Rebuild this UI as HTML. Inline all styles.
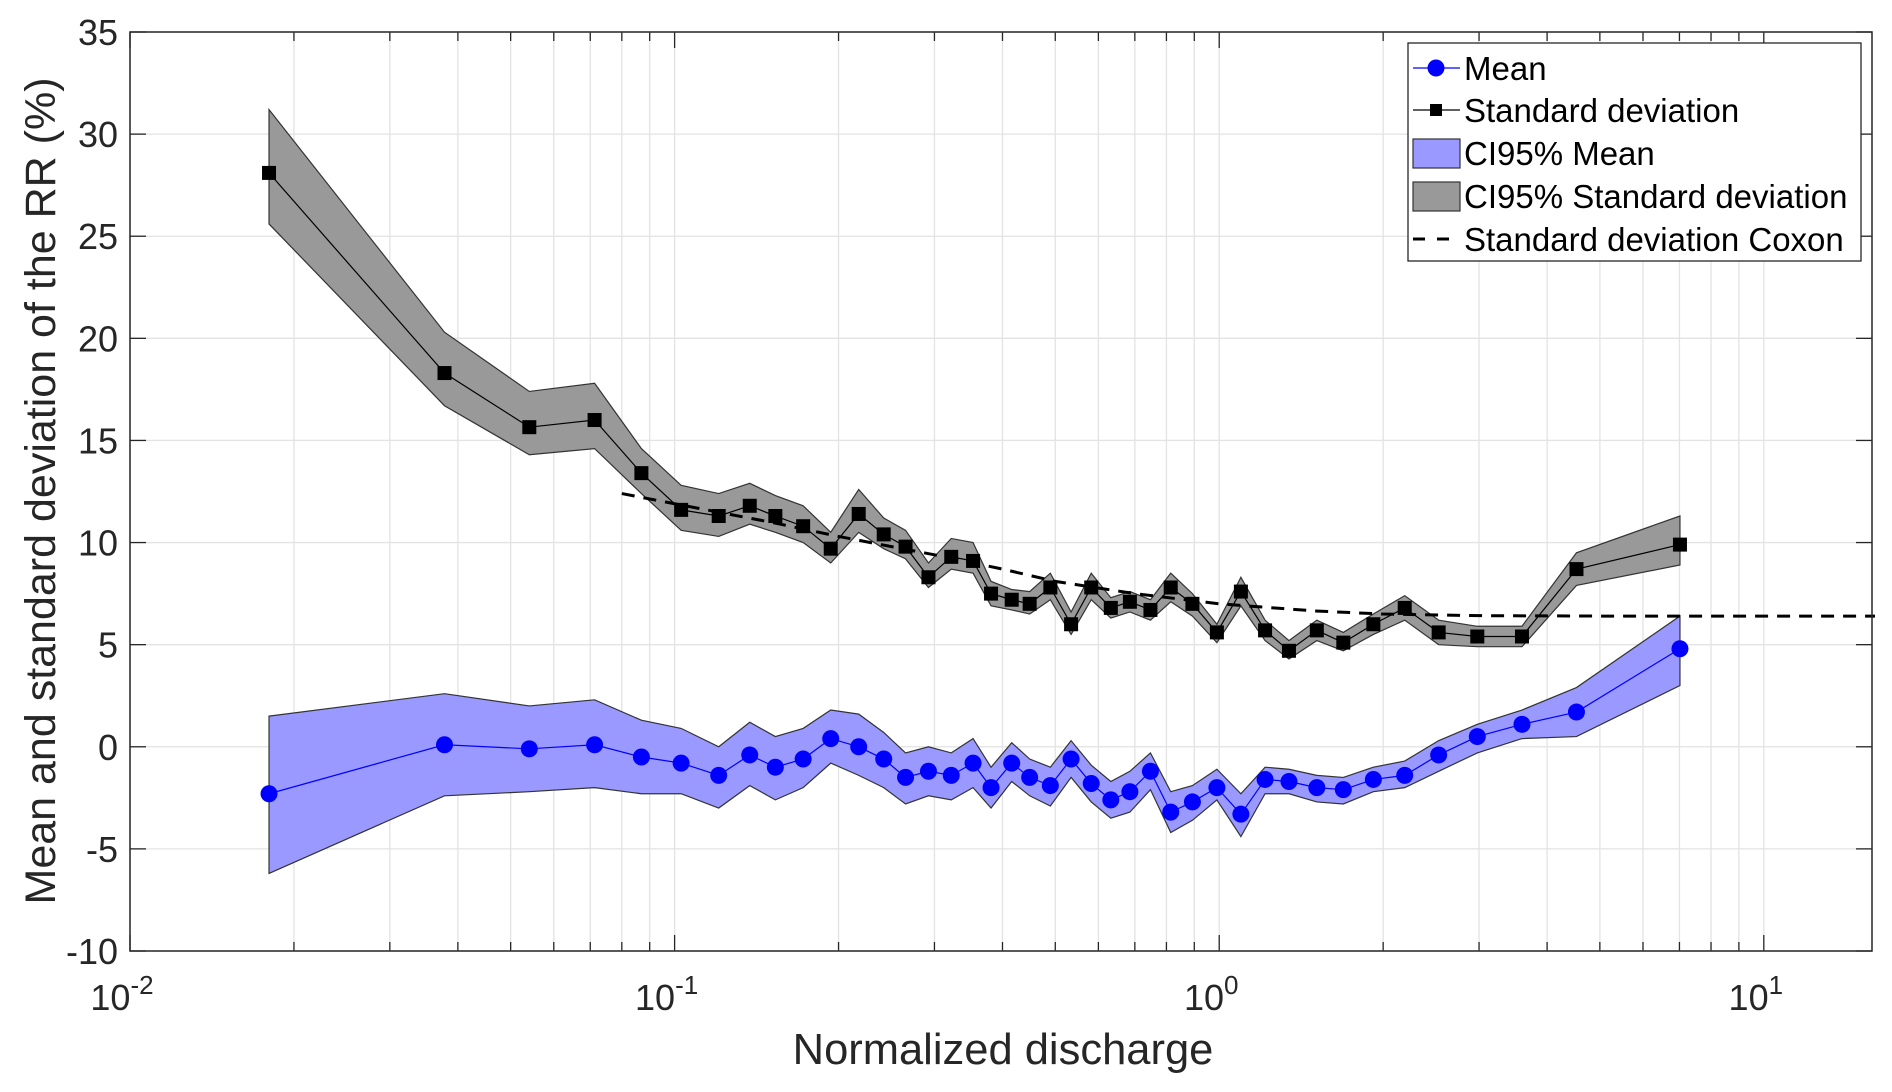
<!DOCTYPE html>
<html><head><meta charset="utf-8"><style>
html,body{margin:0;padding:0;background:#fff;}
svg{display:block;font-family:"Liberation Sans",Arial,sans-serif;}
</style></head><body>
<svg id="chart" width="1892" height="1092" viewBox="0 0 1892 1092" xmlns="http://www.w3.org/2000/svg"></svg>
<script>
const xValues=[0.0180,0.0378,0.0541,0.0713,0.0869,0.1028,0.1205,0.1374,0.1531,0.1722,0.1935,0.2178,0.2421,0.2655,0.2925,0.3221,0.3532,0.3811,0.4159,0.4487,0.4897,0.5346,0.5821,0.6324,0.6855,0.7477,0.8147,0.8929,0.9903,1.096,1.214,1.343,1.511,1.690,1.919,2.191,2.529,2.978,3.597,4.529,7.015];
const sdValues=[28.1,18.3,15.65,16.0,13.4,11.6,11.3,11.8,11.3,10.8,9.7,11.4,10.4,9.8,8.3,9.3,9.1,7.5,7.2,7.0,7.8,6.0,7.8,6.8,7.1,6.7,7.8,7.0,5.6,7.6,5.7,4.7,5.7,5.1,6.0,6.8,5.6,5.4,5.4,8.7,9.9];
const sdLower=[25.6,16.7,14.3,14.6,12.4,10.6,10.3,10.9,10.5,10.0,9.0,10.5,9.7,9.2,7.8,8.7,8.5,6.9,6.7,6.5,7.2,5.5,7.2,6.3,6.6,6.2,7.1,6.4,5.1,6.9,5.2,4.3,5.2,4.7,5.5,6.2,5.0,4.9,4.9,7.9,8.9];
const sdUpper=[31.2,20.3,17.4,17.8,14.6,12.8,12.4,12.9,12.3,11.8,10.5,12.6,11.2,10.6,9.0,10.2,10.0,8.1,7.7,7.6,8.5,6.6,8.5,7.3,7.6,7.2,8.5,7.5,6.0,8.3,6.2,5.2,6.2,5.6,6.5,7.4,6.2,5.9,5.9,9.5,11.3];
const meanValues=[-2.3,0.1,-0.1,0.1,-0.5,-0.8,-1.4,-0.4,-1.0,-0.6,0.4,0.0,-0.6,-1.5,-1.2,-1.4,-0.8,-2.0,-0.8,-1.5,-1.9,-0.6,-1.8,-2.6,-2.2,-1.2,-3.2,-2.7,-2.0,-3.3,-1.6,-1.7,-2.0,-2.1,-1.6,-1.4,-0.4,0.5,1.1,1.7,4.8];
const meanLower=[-6.2,-2.4,-2.2,-2.0,-2.3,-2.3,-3.0,-1.9,-2.6,-2.0,-0.8,-1.4,-2.0,-2.8,-2.4,-2.6,-2.0,-3.0,-1.7,-2.4,-2.9,-1.5,-2.7,-3.5,-3.2,-2.1,-4.2,-3.6,-2.6,-4.4,-2.3,-2.3,-2.7,-2.8,-2.2,-2.0,-1.2,-0.3,0.4,0.5,3.0];
const meanUpper=[1.5,2.6,2.0,2.3,1.3,0.9,0.0,1.2,0.5,0.9,1.8,1.6,0.7,-0.3,0.0,-0.3,0.4,-1.0,0.2,-0.6,-1.0,0.3,-0.9,-1.7,-1.2,-0.3,-2.2,-1.9,-1.1,-2.3,-1.0,-1.1,-1.4,-1.5,-1.0,-0.7,0.3,1.1,1.8,2.9,6.4];
const coxonX=[0.08,0.1,0.15,0.2,0.3,0.4,0.5,0.7,1.0,1.5,2.0,3.0,5.0,16];
const coxonY=[12.4,11.9,11.0,10.3,9.4,8.7,8.1,7.5,7.0,6.65,6.5,6.42,6.4,6.4];
const yTicks=[-10,-5,0,5,10,15,20,25,30,35];
const xDecades=[-2,-1,0,1];

const L=130,R=1872,T=32,B=951,xmin=-2,xmax=Math.log10(15.8),ymin=-10,ymax=35;
const X=v=>L+(Math.log10(v)-xmin)/(xmax-xmin)*(R-L);
const Y=v=>B-(v-ymin)/(ymax-ymin)*(B-T);
const svg=document.getElementById('chart');
const NS='http://www.w3.org/2000/svg';
function mk(tag,attrs,parent){const e=document.createElementNS(NS,tag);for(const k in attrs)e.setAttribute(k,attrs[k]);(parent||svg).appendChild(e);return e;}

const grid=mk('g',{});


for(const d of xDecades){for(let m=1;m<10;m++){const v=m*Math.pow(10,d);if(v>15.8)continue;const x=X(v);
 const gl=mk('line',{x1:x,x2:x,y1:T,y2:B,stroke:'#e3e3e3','stroke-width':1.3},grid);
 
 
 const len=m===1?16:9;
 mk('line',{x1:x,x2:x,y1:B,y2:B-len,stroke:'#262626','stroke-width':1.3},grid);
 mk('line',{x1:x,x2:x,y1:T,y2:T+len,stroke:'#262626','stroke-width':1.3},grid);
}}
for(const t of yTicks){const y=Y(t);
 const gl=mk('line',{x1:L,x2:R,y1:y,y2:y,stroke:'#e3e3e3','stroke-width':1.3},grid);
 
 
 mk('line',{x1:L,x2:L+16,y1:y,y2:y,stroke:'#262626','stroke-width':1.3},grid);
 mk('line',{x1:R,x2:R-16,y1:y,y2:y,stroke:'#262626','stroke-width':1.3},grid);
 const tl=mk('text',{x:L-12,y:y+13,'text-anchor':'end','font-size':36,fill:'#262626'},grid);
 tl.textContent=t;
 
 
}
for(const d of xDecades){const x=X(Math.pow(10,d));
 const tl=mk('text',{x:x-8,y:1010,'text-anchor':'middle','font-size':36,fill:'#262626'});
 
 
 tl.textContent='10';
 const sp=mk('tspan',{dy:-16,'font-size':26},tl);sp.textContent=String(d);
}

function band(lo,hi,fill,name){
 let p='';for(let i=0;i<xValues.length;i++)p+=(i?'L':'M')+X(xValues[i])+','+Y(hi[i]);
 for(let i=xValues.length-1;i>=0;i--)p+='L'+X(xValues[i])+','+Y(lo[i]);
 const e=mk('path',{d:p+'Z',fill:fill,stroke:'#333','stroke-width':1.2});
 
 
}
band(sdLower,sdUpper,'#999999','ci95-sd-band');
band(meanLower,meanUpper,'#9999ff','ci95-mean-band');

let cp='';coxonX.forEach((v,i)=>cp+=(i?'L':'M')+X(v)+','+Y(coxonY[i]));
const cox=mk('path',{d:cp,fill:'none',stroke:'#000','stroke-width':3,'stroke-dasharray':'13,9'});



let sp='';xValues.forEach((v,i)=>sp+=(i?'L':'M')+X(v)+','+Y(sdValues[i]));
const sdl=mk('path',{d:sp,fill:'none',stroke:'#000','stroke-width':1.2});


xValues.forEach((v,i)=>{const r=mk('rect',{x:X(v)-7,y:Y(sdValues[i])-7,width:14,height:14,fill:'#000'});
 
 });

let mp='';xValues.forEach((v,i)=>mp+=(i?'L':'M')+X(v)+','+Y(meanValues[i]));
const ml=mk('path',{d:mp,fill:'none',stroke:'#0000ff','stroke-width':1.2});


xValues.forEach((v,i)=>{const c=mk('circle',{cx:X(v),cy:Y(meanValues[i]),r:8.5,fill:'#0000ff'});
 
 });

const box=mk('rect',{x:L,y:T,width:R-L,height:B-T,fill:'none',stroke:'#262626','stroke-width':1.5});



const xt=mk('text',{x:1003,y:1064,'text-anchor':'middle','font-size':43.5,fill:'#262626'});
xt.textContent='Normalized discharge';


const yt=mk('text',{x:0,y:0,'text-anchor':'middle','font-size':43,fill:'#262626',transform:'translate(55,491) rotate(-90)'});
yt.textContent='Mean and standard deviation of the RR (%)';



const lg=mk('g',{});


mk('rect',{x:1408,y:43,width:453,height:218,fill:'#fff',stroke:'#262626','stroke-width':1.3},lg);
const rows=[68,110,153,196,239];
const labels=['Mean','Standard deviation','CI95% Mean','CI95% Standard deviation','Standard deviation Coxon'];
mk('line',{x1:1413,x2:1460,y1:rows[0],y2:rows[0],stroke:'#0000ff','stroke-width':1.2},lg);
mk('circle',{cx:1436,cy:rows[0],r:8.5,fill:'#0000ff'},lg);
mk('line',{x1:1413,x2:1460,y1:rows[1],y2:rows[1],stroke:'#000','stroke-width':1.2},lg);
mk('rect',{x:1430,y:rows[1]-6,width:12,height:12,fill:'#000'},lg);
mk('rect',{x:1413,y:rows[2]-14,width:47,height:29,fill:'#9999ff',stroke:'#333','stroke-width':1.2},lg);
mk('rect',{x:1413,y:rows[3]-14,width:47,height:29,fill:'#999',stroke:'#333','stroke-width':1.2},lg);
mk('line',{x1:1413,x2:1450,y1:rows[4],y2:rows[4],stroke:'#000','stroke-width':3,'stroke-dasharray':'12,12'},lg);
rows.forEach((y,i)=>{const t=mk('text',{x:1464,y:y+12,'font-size':33,fill:'#000'},lg);t.textContent=labels[i];
 
 });
</script>
</body></html>
